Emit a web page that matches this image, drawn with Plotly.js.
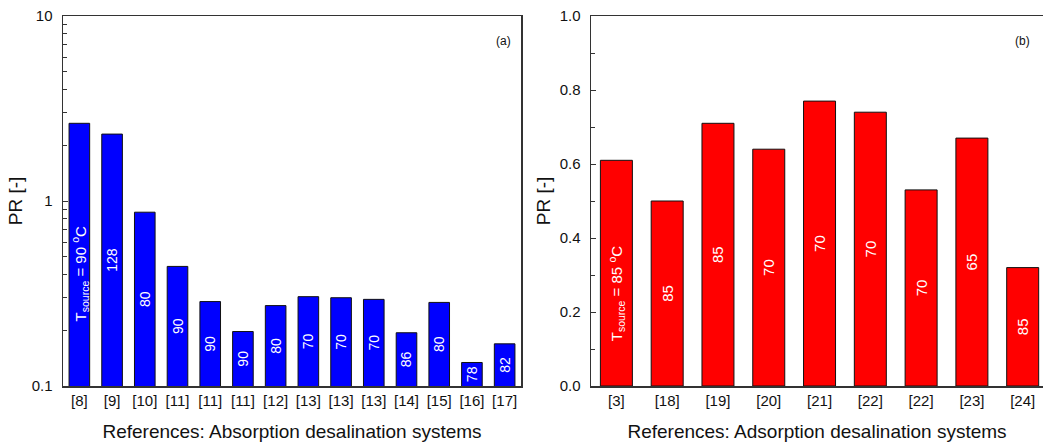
<!DOCTYPE html>
<html>
<head>
<meta charset="utf-8">
<script src="https://cdn.plot.ly/plotly-3.0.1.min.js"></script>
<style>html,body{margin:0;padding:0;background:#fff;}#chart{width:1043px;height:445px;}</style>
</head>
<body>
<div id="chart"></div>
<script>
// (a) Absorption desalination systems
const absRefs = ["[8]", "[9]", "[10]", "[11]", "[11]", "[11]", "[12]", "[13]", "[13]", "[13]", "[14]", "[15]", "[16]", "[17]"];
const absPR = [2.63, 2.30, 0.87, 0.443, 0.286, 0.197, 0.272, 0.304, 0.300, 0.294, 0.194, 0.283, 0.134, 0.169];
const absTsource = ["T<sub>source</sub> = 90 <sup>o</sup>C", "128", "80", "90", "90", "90", "80", "70", "70", "70", "86", "80", "78", "82"];

// (b) Adsorption desalination systems
const adsRefs = ["[3]", "[18]", "[19]", "[20]", "[21]", "[22]", "[22]", "[23]", "[24]"];
const adsPR = [0.61, 0.50, 0.71, 0.64, 0.77, 0.74, 0.53, 0.67, 0.32];
const adsTsource = ["T<sub>source</sub> = 85 <sup>o</sup>C", "85", "85", "70", "70", "70", "70", "65", "85"];

// y-axis tick labels
const absYTicks = [0.1, 1, 10];
const absYLabels = ["0.1", "1", "10"];

const FONT = "Arial, 'Liberation Sans', sans-serif";
const W = 1043;

const absIdx = absRefs.map((_, i) => i);
const adsIdx = adsRefs.map((_, i) => i);
// first label of each panel is drawn as a separate annotation (placed lower in bar)
const absTextPos = absRefs.map((_, i) => i === 0 ? "none" : "inside");
const adsTextPos = adsRefs.map((_, i) => i === 0 ? "none" : "inside");

const traces = [
  {
    type: "bar", x: absIdx, y: absPR, text: absTsource,
    xaxis: "x", yaxis: "y",
    marker: {color: "#0000ff", line: {color: "#111", width: 1}},
    textposition: absTextPos, insidetextanchor: "middle", textangle: -90,
    constraintext: "none",
    textfont: {color: "#fff", size: 14, family: FONT},
    hoverinfo: "skip"
  },
  {
    type: "bar", x: adsIdx, y: adsPR, text: adsTsource,
    xaxis: "x2", yaxis: "y2",
    marker: {color: "#ff0000", line: {color: "#111", width: 1}},
    textposition: adsTextPos, insidetextanchor: "middle", textangle: -90,
    constraintext: "none",
    textfont: {color: "#fff", size: 15, family: FONT},
    hoverinfo: "skip"
  }
];

const axisCommon = {
  showgrid: false, zeroline: false, showline: true,
  linecolor: "#333", linewidth: 1.5,
  tickfont: {size: 15, color: "#111", family: FONT}
};

const layout = {
  width: 1043, height: 445,
  margin: {l: 0, r: 0, t: 16, b: 59},
  paper_bgcolor: "#fff", plot_bgcolor: "#fff",
  showlegend: false,
  bargap: 0.37,
  font: {family: FONT, color: "#111"},
  xaxis: Object.assign({}, axisCommon, {
    domain: [63 / W, 521 / W], anchor: "y",
    range: [-0.5, absRefs.length - 0.5],
    tickvals: absIdx, ticktext: absRefs, ticks: "", mirror: true,
    title: {text: "References: Absorption desalination systems", font: {size: 19, color: "#111", family: FONT}, standoff: 17}
  }),
  yaxis: Object.assign({}, axisCommon, {
    anchor: "x", type: "log", range: [-1, 1],
    tickvals: absYTicks, ticktext: absYLabels,
    ticks: "inside", ticklen: 5, tickcolor: "#333", mirror: true,
    minor: {ticks: "inside", ticklen: 4, tickcolor: "#333", dtick: "D1"},
    ticklabelstandoff: 6,
    title: {text: "PR [-]", font: {size: 19, color: "#111", family: FONT}, standoff: 4}
  }),
  xaxis2: Object.assign({}, axisCommon, {
    domain: [591 / W, 1], anchor: "y2",
    range: [-0.5, 8.4],
    tickvals: adsIdx, ticktext: adsRefs, ticks: "", mirror: true,
    title: {text: "References: Adsorption desalination systems", font: {size: 19, color: "#111", family: FONT}, standoff: 17}
  }),
  yaxis2: Object.assign({}, axisCommon, {
    anchor: "x2", range: [0, 1], dtick: 0.2, tickformat: ".1f",
    ticks: "inside", ticklen: 5, tickcolor: "#333", mirror: false,
    minor: {ticks: "inside", ticklen: 4, tickcolor: "#333", dtick: 0.1},
    ticklabelstandoff: 6,
    title: {text: "PR [-]", font: {size: 19, color: "#111", family: FONT}, standoff: 4}
  }),
  annotations: [
    {text: "(a)", xref: "paper", yref: "paper", x: 503 / W, y: (386 - 32) / 370, showarrow: false,
     font: {size: 12, color: "#111", family: FONT}},
    {text: "(b)", xref: "paper", yref: "paper", x: 1032 / W, y: (386 - 32) / 370, showarrow: false,
     font: {size: 12, color: "#111", family: FONT}},
    {text: absTsource[0], xref: "x", yref: "y", x: 0, y: -0.395, textangle: -90, showarrow: false,
     font: {size: 15, color: "#fff", family: FONT}},
    {text: adsTsource[0], xref: "x2", yref: "y2", x: 0, y: 0.249, textangle: -90, showarrow: false,
     font: {size: 15, color: "#fff", family: FONT}}
  ]
};

Plotly.newPlot("chart", traces, layout, {displayModeBar: false, staticPlot: true});
</script>
</body>
</html>
